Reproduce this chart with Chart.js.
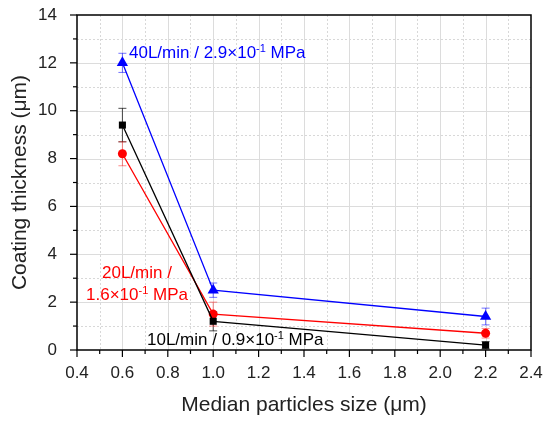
<!DOCTYPE html>
<html>
<head>
<meta charset="UTF-8">
<title>Coating thickness</title>
<script src="https://cdn.jsdelivr.net/npm/chart.js"></script>
<style>
  html, body { margin: 0; padding: 0; background: #fff; }
  #wrap { width: 544px; height: 421px; }
</style>
</head>
<body>
<div id="wrap"><canvas id="chart" width="544" height="421"></canvas></div>
<script>
// data
const sizes = [0.6, 1.0, 2.2];
const thick40 = [12.0, 2.5, 1.4];
const err40 = [0.4, 0.3, 0.35];
const thick20 = [8.2, 1.5, 0.7];
const err20 = [0.5, 0.5, 0.2];
const thick10 = [9.4, 1.2, 0.2];
const err10 = [0.7, 0.4, 0.15];
const xTicks = [0.4, 0.6, 0.8, 1.0, 1.2, 1.4, 1.6, 1.8, 2.0, 2.2, 2.4];
const yTicks = [0, 2, 4, 6, 8, 10, 12, 14];

const FONT = "'Liberation Sans', Arial, sans-serif";

function pts(ys) { return sizes.map((x, i) => ({ x: x, y: ys[i] })); }

// grid, minor ticks, frame
const framePlugin = {
  id: 'frame',
  beforeDatasetsDraw(chart) {
    const { ctx, chartArea: a, scales: { x, y } } = chart;
    ctx.save();
    ctx.lineWidth = 1;
    for (let v = 0.5; v < 2.4; v += 0.2) {
      const px = Math.round(x.getPixelForValue(v)) + 0.5;
      ctx.strokeStyle = '#d8d8d8'; ctx.setLineDash([2, 2]);
      ctx.beginPath(); ctx.moveTo(px, a.top); ctx.lineTo(px, a.bottom); ctx.stroke();
    }
    for (let v = 1; v < 14; v += 2) {
      const py = Math.round(y.getPixelForValue(v)) + 0.5;
      ctx.strokeStyle = '#d8d8d8'; ctx.setLineDash([2, 2]);
      ctx.beginPath(); ctx.moveTo(a.left, py); ctx.lineTo(a.right, py); ctx.stroke();
    }
    ctx.setLineDash([]);
    ctx.strokeStyle = '#dcdcdc';
    xTicks.slice(1, -1).forEach(v => {
      const px = Math.round(x.getPixelForValue(v)) + 0.5;
      ctx.beginPath(); ctx.moveTo(px, a.top); ctx.lineTo(px, a.bottom); ctx.stroke();
    });
    yTicks.slice(1, -1).forEach(v => {
      const py = Math.round(y.getPixelForValue(v)) + 0.5;
      ctx.beginPath(); ctx.moveTo(a.left, py); ctx.lineTo(a.right, py); ctx.stroke();
    });
    ctx.restore();
  },
  afterDraw(chart) {
    const { ctx, chartArea: a, scales: { x, y } } = chart;
    ctx.save();
    ctx.strokeStyle = '#000';
    ctx.lineWidth = 1.5;
    ctx.strokeRect(a.left, a.top, a.right - a.left, a.bottom - a.top);
    ctx.lineWidth = 1.2;
    for (let i = 0; i <= 20; i++) {
      const v = 0.4 + i * 0.1;
      const px = x.getPixelForValue(v);
      const len = i % 2 === 0 ? 7 : 4;
      ctx.beginPath(); ctx.moveTo(px, a.bottom); ctx.lineTo(px, a.bottom + len); ctx.stroke();
    }
    for (let i = 0; i <= 14; i++) {
      const py = y.getPixelForValue(i);
      const len = i % 2 === 0 ? 7 : 4;
      ctx.beginPath(); ctx.moveTo(a.left, py); ctx.lineTo(a.left - len, py); ctx.stroke();
    }
    ctx.restore();
  }
};

// error bars
const errorPlugin = {
  id: 'errbars',
  beforeDatasetsDraw(chart) {
    const { ctx, scales: { x, y } } = chart;
    const errs = [err10, err20, err40];
    const cols = ['rgba(0,0,0,0.7)', 'rgba(255,0,0,0.45)', 'rgba(0,0,255,0.55)'];
    ctx.save();
    ctx.lineWidth = 1;
    chart.data.datasets.forEach((ds, k) => {
      ctx.strokeStyle = cols[k];
      ds.data.forEach((p, i) => {
        const px = x.getPixelForValue(p.x);
        const top = y.getPixelForValue(p.y + errs[k][i]);
        const bot = y.getPixelForValue(p.y - errs[k][i]);
        ctx.beginPath();
        ctx.moveTo(px, top); ctx.lineTo(px, bot);
        ctx.moveTo(px - 4, top); ctx.lineTo(px + 4, top);
        ctx.moveTo(px - 4, bot); ctx.lineTo(px + 4, bot);
        ctx.stroke();
      });
    });
    ctx.restore();
  }
};

// labels with a superscript
function drawParts(ctx, parts, x0, y0, size, color) {
  let cx = x0;
  ctx.fillStyle = color;
  ctx.textBaseline = 'alphabetic';
  ctx.textAlign = 'left';
  parts.forEach(p => {
    if (p.sup) {
      ctx.font = Math.round(size * 0.62) + 'px ' + FONT;
      ctx.fillText(p.t, cx, y0 - size * 0.38);
    } else {
      ctx.font = size + 'px ' + FONT;
      ctx.fillText(p.t, cx, y0);
    }
    cx += ctx.measureText(p.t).width;
  });
}

const labelPlugin = {
  id: 'labels',
  afterDraw(chart) {
    const ctx = chart.ctx;
    ctx.save();
    drawParts(ctx, [{ t: '40L/min / 2.9×10' }, { t: '-1', sup: true }, { t: ' MPa' }], 129, 58, 17, '#0000ff');
    drawParts(ctx, [{ t: '20L/min /' }], 102, 278, 17, '#ff0000');
    drawParts(ctx, [{ t: '1.6×10' }, { t: '-1', sup: true }, { t: ' MPa' }], 86, 300, 17, '#ff0000');
    drawParts(ctx, [{ t: '10L/min / 0.9×10' }, { t: '-1', sup: true }, { t: ' MPa' }], 147, 345, 17, '#000000');
    ctx.restore();
  }
};

new Chart(document.getElementById('chart'), {
  type: 'scatter',
  data: {
    datasets: [
      { label: '10L/min', data: pts(thick10), showLine: true, borderColor: '#000', backgroundColor: '#000',
        borderWidth: 1.3, pointStyle: 'rect', pointRadius: 5, pointBorderWidth: 0 },
      { label: '20L/min', data: pts(thick20), showLine: true, borderColor: '#ff0000', backgroundColor: '#ff0000',
        borderWidth: 1.3, pointStyle: 'circle', pointRadius: 4.5, pointBorderWidth: 0 },
      { label: '40L/min', data: pts(thick40), showLine: true, borderColor: '#0000ff', backgroundColor: '#0000ff',
        borderWidth: 1.3, pointStyle: 'triangle', pointRadius: 6.5, pointBorderWidth: 0 }
    ]
  },
  options: {
    responsive: false,
    animation: false,
    layout: { padding: { top: 15, right: 13, left: 4, bottom: 0 } },
    plugins: { legend: { display: false }, tooltip: { enabled: false } },
    scales: {
      x: {
        type: 'linear', min: 0.4, max: 2.4,
        afterBuildTicks: s => { s.ticks = xTicks.map(v => ({ value: v })); },
        afterFit: s => { s.height = 71; s.paddingLeft = 0; s.paddingRight = 0; },
        grid: { display: false },
        border: { display: false },
        ticks: { color: '#222', font: { family: FONT, size: 17 }, padding: 5,
                 callback: v => Number(v).toFixed(1) },
        title: { display: true, text: 'Median particles size (μm)', color: '#222',
                 font: { family: FONT, size: 21 }, padding: { top: 10, bottom: 3 } }
      },
      y: {
        min: 0, max: 14,
        afterBuildTicks: s => { s.ticks = yTicks.map(v => ({ value: v })); },
        afterFit: s => { s.width = 73; s.paddingTop = 0; s.paddingBottom = 0; },
        grid: { display: false },
        border: { display: false },
        ticks: { color: '#222', font: { family: FONT, size: 17 }, padding: 12 },
        title: { display: true, text: 'Coating thickness (μm)', color: '#222',
                 font: { family: FONT, size: 21 }, padding: { bottom: 6 } }
      }
    }
  },
  plugins: [framePlugin, errorPlugin, labelPlugin]
});
</script>
</body>
</html>
